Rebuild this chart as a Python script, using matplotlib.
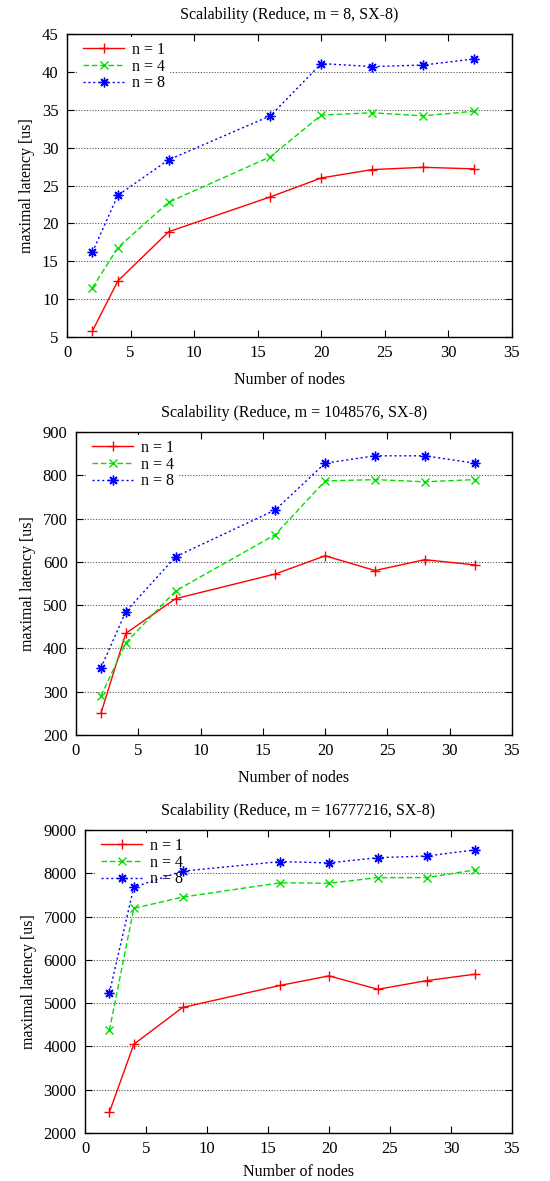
import matplotlib
matplotlib.use("Agg")
import matplotlib.pyplot as plt

plt.rcParams['font.family'] = ['Liberation Serif', 'DejaVu Serif']

nodes = [2, 4, 8, 16, 20, 24, 28, 32]

titles = [
    "Scalability (Reduce, m = 8, SX-8)",
    "Scalability (Reduce, m = 1048576, SX-8)",
    "Scalability (Reduce, m = 16777216, SX-8)",
]

m8_n1 = [5.8, 12.4, 18.9, 23.5, 26.0, 27.1, 27.4, 27.2]
m8_n4 = [11.5, 16.8, 22.8, 28.8, 34.3, 34.6, 34.2, 34.8]
m8_n8 = [16.2, 23.7, 28.4, 34.2, 41.1, 40.7, 40.9, 41.7]

m1M_n1 = [250, 435, 515, 572, 614, 580, 605, 593]
m1M_n4 = [290, 413, 533, 663, 787, 790, 785, 790]
m1M_n8 = [355, 485, 612, 720, 828, 845, 845, 828]

m16M_n1 = [2480, 4050, 4900, 5410, 5630, 5320, 5520, 5670]
m16M_n4 = [4370, 7190, 7450, 7780, 7770, 7900, 7900, 8080]
m16M_n8 = [5240, 7680, 8050, 8270, 8240, 8360, 8400, 8540]

series_labels = ["n = 1", "n = 4", "n = 8"]
ylims = [(5, 45), (200, 900), (2000, 9000)]
ysteps = [5, 100, 1000]

data = [
    (m8_n1, m8_n4, m8_n8),
    (m1M_n1, m1M_n4, m1M_n8),
    (m16M_n1, m16M_n4, m16M_n8),
]

W, H = 550, 1181
fig = plt.figure(figsize=(W / 100, H / 100), dpi=100)

# axes boxes in pixel coords: left, right, top, bottom
boxes = [(67, 512, 34, 337), (76, 512, 432, 735), (85, 512, 830, 1133)]

styles = [
    dict(color='#ff0000', linestyle='-', marker='+', markersize=7, lw=1.0),
    dict(color='#00e000', linestyle=(0, (4, 2)), marker='x', markersize=6, lw=1.0),
    dict(color='#0000ff', linestyle=(0, (1.5, 2)), marker=(8, 2, 0), markersize=7, lw=1.0),
]

for i in range(3):
    l, r, t, b = boxes[i]
    ax = fig.add_axes([l / W, 1 - b / H, (r - l) / W, (b - t) / H])
    for j, ys in enumerate(data[i]):
        st = styles[j]
        ax.plot(nodes, ys, color=st['color'], linestyle=st['linestyle'], lw=st['lw'],
                marker=st['marker'], markersize=st['markersize'], markeredgewidth=1.0,
                label=series_labels[j], zorder=3)
    lo, hi = ylims[i]
    ax.set_xlim(0, 35)
    ax.set_ylim(lo, hi)
    ax.set_xticks(range(0, 36, 5))
    ax.set_yticks(range(lo, hi + 1, ysteps[i]))
    ax.yaxis.grid(True, linestyle=(0, (1, 1.5)), color='#555555', lw=0.8)
    ax.set_axisbelow(True)
    ax.tick_params(direction='in', top=True, right=True, length=5, width=0.8,
                   labelsize=12, pad=6)
    for sp in ax.spines.values():
        sp.set_linewidth(1.0)
        sp.set_zorder(4)
    ax.set_title(titles[i], fontsize=11.5, pad=11)
    ax.set_xlabel("Number of nodes", fontsize=11.5, labelpad=8 if i < 2 else 5)
    ax.set_ylabel("maximal latency [us]", fontsize=11.5, labelpad=5)
    leg = ax.legend(loc='upper left', bbox_to_anchor=(11 / (r - l), 1.0 - 3 / (b - t)),
                    borderaxespad=0.0, frameon=True, fontsize=11.5, handlelength=2.6,
                    labelspacing=0.05, handletextpad=0.5, borderpad=0.3,
                    fancybox=False, framealpha=1.0)
    leg.get_frame().set_edgecolor('white')
    leg.get_frame().set_linewidth(0)
    leg.set_zorder(2.5)

fig.savefig("out.png", dpi=100)
